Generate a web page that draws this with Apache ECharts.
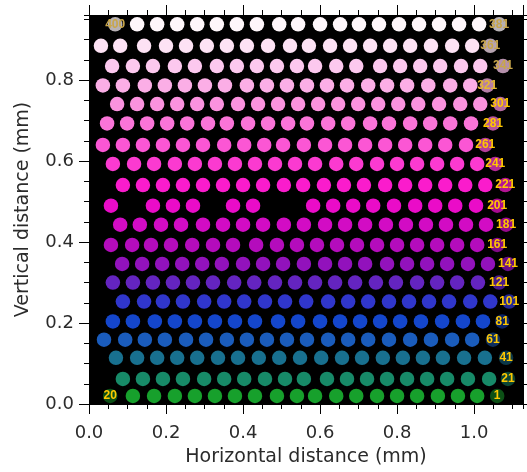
<!DOCTYPE html>
<html>
<head>
<meta charset="utf-8">
<script src="https://cdn.jsdelivr.net/npm/echarts@6/dist/echarts.min.js"></script>
<style>
  html, body { margin: 0; padding: 0; background: #fff; }
  #main { width: 527px; height: 472px; }
</style>
</head>
<body>
<div id="main"></div>
<script>
// particle centres in mm, each row listed left -> right, rows from the bottom up
const rowY = [0.020, 0.062, 0.114, 0.159, 0.204, 0.253, 0.300, 0.346, 0.393, 0.443,
              0.490, 0.541, 0.593, 0.640, 0.693, 0.741, 0.787, 0.835, 0.885, 0.938];

const row01 = [0.055,0.114,0.169,0.223,0.275,0.327,0.379,0.431,0.488,0.540,0.587,0.642,0.694,0.748,0.800,0.852,0.906,0.958,1.008,1.060];
const row02 = [0.088,0.140,0.192,0.244,0.299,0.351,0.403,0.457,0.509,0.558,0.618,0.670,0.722,0.774,0.826,0.878,0.930,0.984,1.039,1.088];
const row03 = [0.070,0.125,0.177,0.229,0.281,0.335,0.387,0.441,0.494,0.548,0.603,0.657,0.709,0.763,0.815,0.867,0.919,0.974,1.028,1.083];
const row04 = [0.039,0.094,0.145,0.197,0.252,0.304,0.358,0.410,0.462,0.514,0.566,0.621,0.673,0.725,0.779,0.834,0.888,0.943,0.995,1.049];
const row05 = [0.062,0.114,0.171,0.223,0.275,0.327,0.379,0.431,0.491,0.543,0.600,0.652,0.704,0.756,0.808,0.862,0.917,0.971,1.023,1.073];
const row06 = [0.088,0.143,0.192,0.244,0.299,0.351,0.403,0.457,0.509,0.564,0.621,0.673,0.725,0.779,0.831,0.883,0.935,0.990,1.042,1.091];
const row07 = [0.062,0.114,0.166,0.218,0.270,0.322,0.377,0.429,0.483,0.535,0.587,0.639,0.691,0.745,0.797,0.852,0.904,0.956,1.010,1.065];
const row08 = [0.086,0.138,0.190,0.242,0.294,0.345,0.400,0.452,0.504,0.558,0.613,0.665,0.717,0.774,0.826,0.878,0.930,0.984,1.036,1.088];
const row09 = [0.057,0.112,0.161,0.213,0.268,0.322,0.374,0.434,0.488,0.540,0.592,0.644,0.696,0.748,0.800,0.852,0.904,0.956,1.008,1.060];
const row10 = [0.081,0.132,0.187,0.239,0.296,0.348,0.400,0.452,0.506,0.558,0.613,0.665,0.717,0.771,0.823,0.875,0.927,0.979,1.031,1.083];
const row11 = [0.057,0.166,0.218,0.270,0.374,0.426,0.582,0.634,0.686,0.738,0.792,0.847,0.899,0.951,1.005,1.060];
const row12 = [0.088,0.140,0.192,0.244,0.296,0.348,0.400,0.452,0.506,0.556,0.610,0.662,0.714,0.769,0.821,0.873,0.925,0.977,1.029,1.081];
const row13 = [0.062,0.117,0.169,0.223,0.275,0.327,0.379,0.431,0.483,0.535,0.587,0.642,0.694,0.748,0.800,0.852,0.904,0.956,1.008,1.055];
const row14 = [0.036,0.088,0.140,0.192,0.244,0.296,0.351,0.403,0.455,0.504,0.558,0.613,0.665,0.717,0.769,0.821,0.873,0.925,0.979,1.029];
const row15 = [0.047,0.099,0.151,0.203,0.255,0.309,0.358,0.413,0.465,0.517,0.566,0.621,0.673,0.730,0.779,0.834,0.886,0.938,0.992,1.049];
const row16 = [0.073,0.125,0.177,0.229,0.281,0.332,0.387,0.439,0.491,0.543,0.595,0.647,0.699,0.751,0.803,0.855,0.909,0.964,1.016,1.068];
const row17 = [0.036,0.088,0.145,0.197,0.249,0.301,0.353,0.410,0.462,0.514,0.566,0.618,0.670,0.725,0.774,0.826,0.881,0.938,0.990,1.034];
const row18 = [0.060,0.114,0.166,0.223,0.275,0.332,0.384,0.436,0.488,0.540,0.587,0.642,0.694,0.756,0.808,0.860,0.912,0.966,1.016,1.075];
const row19 = [0.031,0.081,0.143,0.200,0.252,0.306,0.358,0.410,0.465,0.522,0.571,0.626,0.678,0.730,0.782,0.834,0.888,0.943,0.995,1.042];
const row20 = [0.068,0.125,0.177,0.229,0.281,0.332,0.384,0.436,0.494,0.543,0.600,0.652,0.701,0.753,0.805,0.857,0.909,0.961,1.013,1.065];

const rowsX = [row01,row02,row03,row04,row05,row06,row07,row08,row09,row10,
               row11,row12,row13,row14,row15,row16,row17,row18,row19,row20];

// particle numbers written on the right end of each row, and on the left end of rows 1 and 20
const rightLabels = ['1','21','41','61','81','101','121','141','161','181',
                     '201','221','241','261','281','301','321','341','361','381'];
const leftLabels = {0: '20', 19: '400'};

const rowColors = ['#17a02c','#178a68','#18708f','#1a5cbc','#1446cc','#3036cc','#6424c0','#9212bc','#b40cbc','#d20cc4',
                   '#ea0cc8','#fa1ccc','#fb3ad0','#fb56d4','#fa74d8','#fa92de','#fbaee6','#fcc8ee','#fde2f4','#fef6fa'];

const X_MAX = 1.127, Y_MAX = 0.961;
const fontAxis = 'DejaVu Sans';
const textCol = '#2b2b2b';

var myChart = echarts.init(document.getElementById('main'));

// labelled particles look darker in the picture
function darken(hex, f) {
  var n = parseInt(hex.slice(1), 16);
  var r = Math.round(((n >> 16) & 255) * f);
  var g = Math.round(((n >> 8) & 255) * f);
  var b = Math.round((n & 255) * f);
  return 'rgb(' + r + ',' + g + ',' + b + ')';
}

function labelColor(r) {
  if (r >= 17) return '#c8a64a';
  if (r === 16) return '#e6ba30';
  return '#ffc800';
}

var series = rowsX.map(function (xs, r) {
  var last = xs.length - 1;
  return {
    type: 'scatter',
    symbol: 'circle',
    symbolSize: 14.5,
    itemStyle: { color: rowColors[r], opacity: 1 },
    data: xs.map(function (x, i) {
      var txt = null;
      if (i === last) txt = rightLabels[r];
      else if (i === 0 && leftLabels[r]) txt = leftLabels[r];
      var d = { value: [x, rowY[r]] };
      if (txt) {
        d.itemStyle = { color: darken(rowColors[r], r < 5 ? 0.5 : 0.72), opacity: 1 };
        d.label = {
          show: true, position: 'inside', formatter: txt,
          color: labelColor(r), fontSize: 12, fontWeight: 'bold', fontFamily: 'Liberation Sans'
        };
      }
      return d;
    })
  };
});

function majorFmt(v) {
  var k = v / 0.2;
  return Math.abs(k - Math.round(k)) < 1e-6 ? v.toFixed(1) : '';
}

function tickAxis(pos, max, interval, len, withLabels, name) {
  var ax = {
    type: 'value', position: pos, min: 0, max: max, interval: interval,
    axisLine: { show: true, onZero: false, lineStyle: { color: '#000', width: 1 } },
    axisTick: { show: true, length: len, lineStyle: { color: '#000', width: 1 } },
    axisLabel: { show: false },
    splitLine: { show: false }
  };
  if (withLabels) {
    ax.axisLabel = {
      show: true, formatter: majorFmt, fontSize: 18, color: textCol, fontFamily: fontAxis,
      margin: (pos === 'bottom') ? 20 : 15, showMaxLabel: false
    };
    ax.name = name;
    ax.nameLocation = 'middle';
    ax.nameGap = (pos === 'bottom') ? 44 : 56;
    ax.nameTextStyle = { fontSize: 19, color: textCol, fontFamily: fontAxis };
  }
  return ax;
}

var option = {
  animation: false,
  backgroundColor: '#fff',
  grid: { left: 89, right: 4, top: 15, bottom: 68, show: true, backgroundColor: '#000', borderWidth: 0 },
  xAxis: [
    tickAxis('bottom', X_MAX, 0.2, 10, true, 'Horizontal distance (mm)'),
    tickAxis('bottom', X_MAX, 0.05, 5, false),
    tickAxis('top', X_MAX, 0.2, 10, false),
    tickAxis('top', X_MAX, 0.05, 5, false)
  ],
  yAxis: [
    tickAxis('left', Y_MAX, 0.2, 10, true, 'Vertical distance (mm)'),
    tickAxis('left', Y_MAX, 0.05, 5, false),
    tickAxis('right', Y_MAX, 0.2, 10, false),
    tickAxis('right', Y_MAX, 0.05, 5, false)
  ],
  series: series
};

option && myChart.setOption(option);
</script>
</body>
</html>
